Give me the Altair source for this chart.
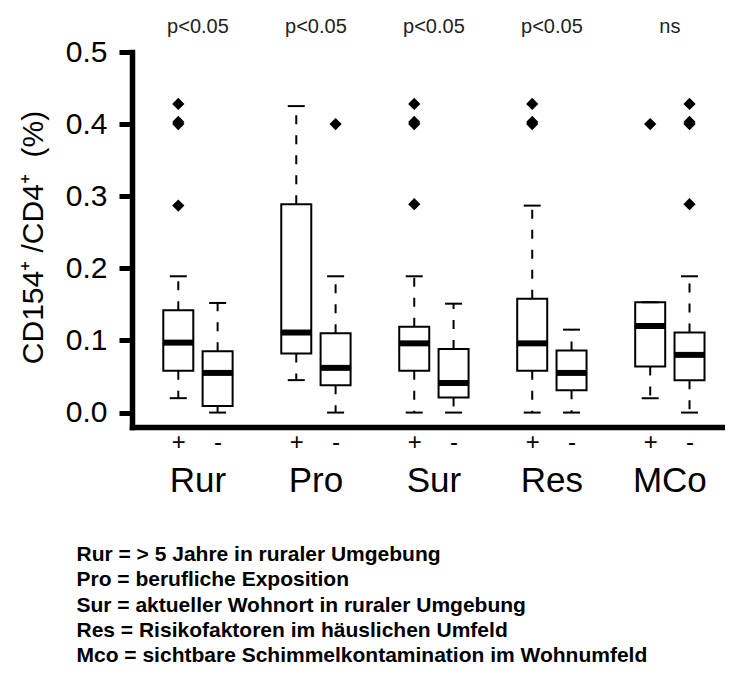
import altair as alt
import pandas as pd

# ---- data ----
groups = ["Rur", "Pro", "Sur", "Res", "MCo"]
p_labels = ["p<0.05", "p<0.05", "p<0.05", "p<0.05", "ns"]
status = ["+", "-"]

box_group = ["Rur", "Rur", "Pro", "Pro", "Sur", "Sur", "Res", "Res", "MCo", "MCo"]
box_status = ["+", "-", "+", "-", "+", "-", "+", "-", "+", "-"]
whisk_lo = [0.020, 0.000, 0.045, 0.000, 0.000, 0.000, 0.000, 0.000, 0.020, 0.000]
q1 = [0.058, 0.009, 0.082, 0.038, 0.058, 0.021, 0.058, 0.031, 0.064, 0.045]
median = [0.097, 0.055, 0.111, 0.062, 0.096, 0.041, 0.096, 0.055, 0.120, 0.080]
q3 = [0.142, 0.085, 0.289, 0.110, 0.119, 0.088, 0.158, 0.086, 0.153, 0.111]
whisk_hi = [0.189, 0.152, 0.425, 0.189, 0.189, 0.151, 0.287, 0.115, 0.153, 0.189]

out_group = ["Rur", "Rur", "Rur", "Rur", "Pro", "Sur", "Sur", "Sur", "Sur",
             "Res", "Res", "Res", "MCo", "MCo", "MCo", "MCo", "MCo"]
out_status = ["+", "+", "+", "+", "-", "+", "+", "+", "+",
              "+", "+", "+", "+", "-", "-", "-", "-"]
out_value = [0.428, 0.400, 0.403, 0.287, 0.400, 0.428, 0.400, 0.403, 0.289,
             0.428, 0.400, 0.403, 0.400, 0.428, 0.400, 0.403, 0.289]

legend_lines = [
    "Rur = > 5 Jahre in ruraler Umgebung",
    "Pro = berufliche Exposition",
    "Sur = aktueller Wohnort in ruraler Umgebung",
    "Res = Risikofaktoren im häuslichen Umfeld",
    "Mco = sichtbare Schimmelkontamination im Wohnumfeld",
]
y_title = "CD154⁺ /CD4⁺\u00a0 (%)"


def slot(g, s):
    return groups.index(g) * 3 + status.index(s)


boxes = pd.DataFrame({
    "group": box_group, "status": box_status,
    "lo": whisk_lo, "q1": q1, "med": median, "q3": q3, "hi": whisk_hi,
})
boxes["pos"] = [slot(g, s) for g, s in zip(box_group, box_status)]

outl = pd.DataFrame({"group": out_group, "status": out_status, "value": out_value})
outl["pos"] = [slot(g, s) for g, s in zip(out_group, out_status)]

grp = pd.DataFrame({"group": groups, "p": p_labels})
grp["center"] = [i * 3 + 0.5 for i in range(len(groups))]

legend_df = pd.DataFrame({"text": ["\n".join(legend_lines)]})

FONT = "Liberation Sans"
tick_pos = sorted(boxes["pos"].tolist())

x_scale = alt.Scale(domain=[-1.05, 13.775], nice=False, zero=False)
y_scale = alt.Scale(domain=[-0.02, 0.5], nice=False, zero=False)

x_axis = alt.Axis(
    values=tick_pos, labelExpr="datum.value % 3 == 0 ? '+' : '-'",
    title=None, grid=False, ticks=False, tickSize=0,
    domainWidth=5.5, domainColor="black", domainCap="square",
    labelFontSize=24, labelFont=FONT, labelColor="black",
    labelPadding=15, labelBaseline="middle",
)
y_axis = alt.Axis(
    values=[0, 0.1, 0.2, 0.3, 0.4, 0.5], format=".1f",
    title=y_title, titleFont=FONT, titleFontSize=30, titleFontWeight="normal",
    titleColor="black", titleAngle=270, titleX=-90, titleY=185,
    titleAlign="center", titleBaseline="alphabetic",
    grid=False, tickSize=13, tickWidth=5, tickColor="black",
    domainWidth=5.5, domainColor="black", domainCap="square",
    labelFontSize=30, labelFont=FONT, labelColor="black", labelPadding=12,
)

base = alt.Chart(boxes)

upper_whisker = base.mark_rule(color="black", strokeWidth=2, strokeDash=[9, 11]).encode(
    x=alt.X("pos:Q", scale=x_scale, axis=x_axis),
    y=alt.Y("q3:Q", scale=y_scale, axis=y_axis),
    y2="hi:Q",
)
lower_whisker = base.mark_rule(color="black", strokeWidth=2, strokeDash=[9, 11]).encode(
    x="pos:Q", y="q1:Q", y2="lo:Q",
)
box = base.mark_bar(size=30, fill="white", stroke="black", strokeWidth=2).encode(
    x="pos:Q", y="q1:Q", y2="q3:Q",
)
med = base.mark_tick(orient="horizontal", size=31, thickness=6, color="black", opacity=1).encode(
    x="pos:Q", y="med:Q",
)
cap_hi = base.mark_tick(orient="horizontal", size=17, thickness=2, color="black", opacity=1).encode(
    x="pos:Q", y="hi:Q",
)
cap_lo = base.mark_tick(orient="horizontal", size=17, thickness=2, color="black", opacity=1).encode(
    x="pos:Q", y="lo:Q",
)
points = alt.Chart(outl).mark_point(shape="diamond", filled=True, size=150,
                                     color="black", opacity=1).encode(
    x="pos:Q", y="value:Q",
)
group_labels = alt.Chart(grp).mark_text(
    font=FONT, fontSize=35, color="black", baseline="alphabetic", align="center"
).encode(x="center:Q", y=alt.value(440), text="group:N")
p_text = alt.Chart(grp).mark_text(
    font=FONT, fontSize=20, color="#222222", baseline="alphabetic", align="center"
).encode(x="center:Q", y=alt.value(-19), text="p:N")
legend = alt.Chart(legend_df).mark_text(
    font=FONT, fontSize=21, fontWeight="bold", color="black", align="left",
    baseline="alphabetic", lineBreak="\n", lineHeight=25.25,
).encode(x=alt.value(-55.5), y=alt.value(509), text="text:N")

chart = alt.layer(
    upper_whisker, lower_whisker, box, med, cap_hi, cap_lo, points,
    group_labels, p_text, legend,
).properties(
    width=593, height=375,
    autosize=alt.AutoSizeParams(type="none"),
    padding={"left": 124, "top": 44, "right": 0, "bottom": 240},
).configure(background="white").configure_view(stroke=None)

chart.save("out.html", embed_options={"renderer": "svg", "actions": False})
